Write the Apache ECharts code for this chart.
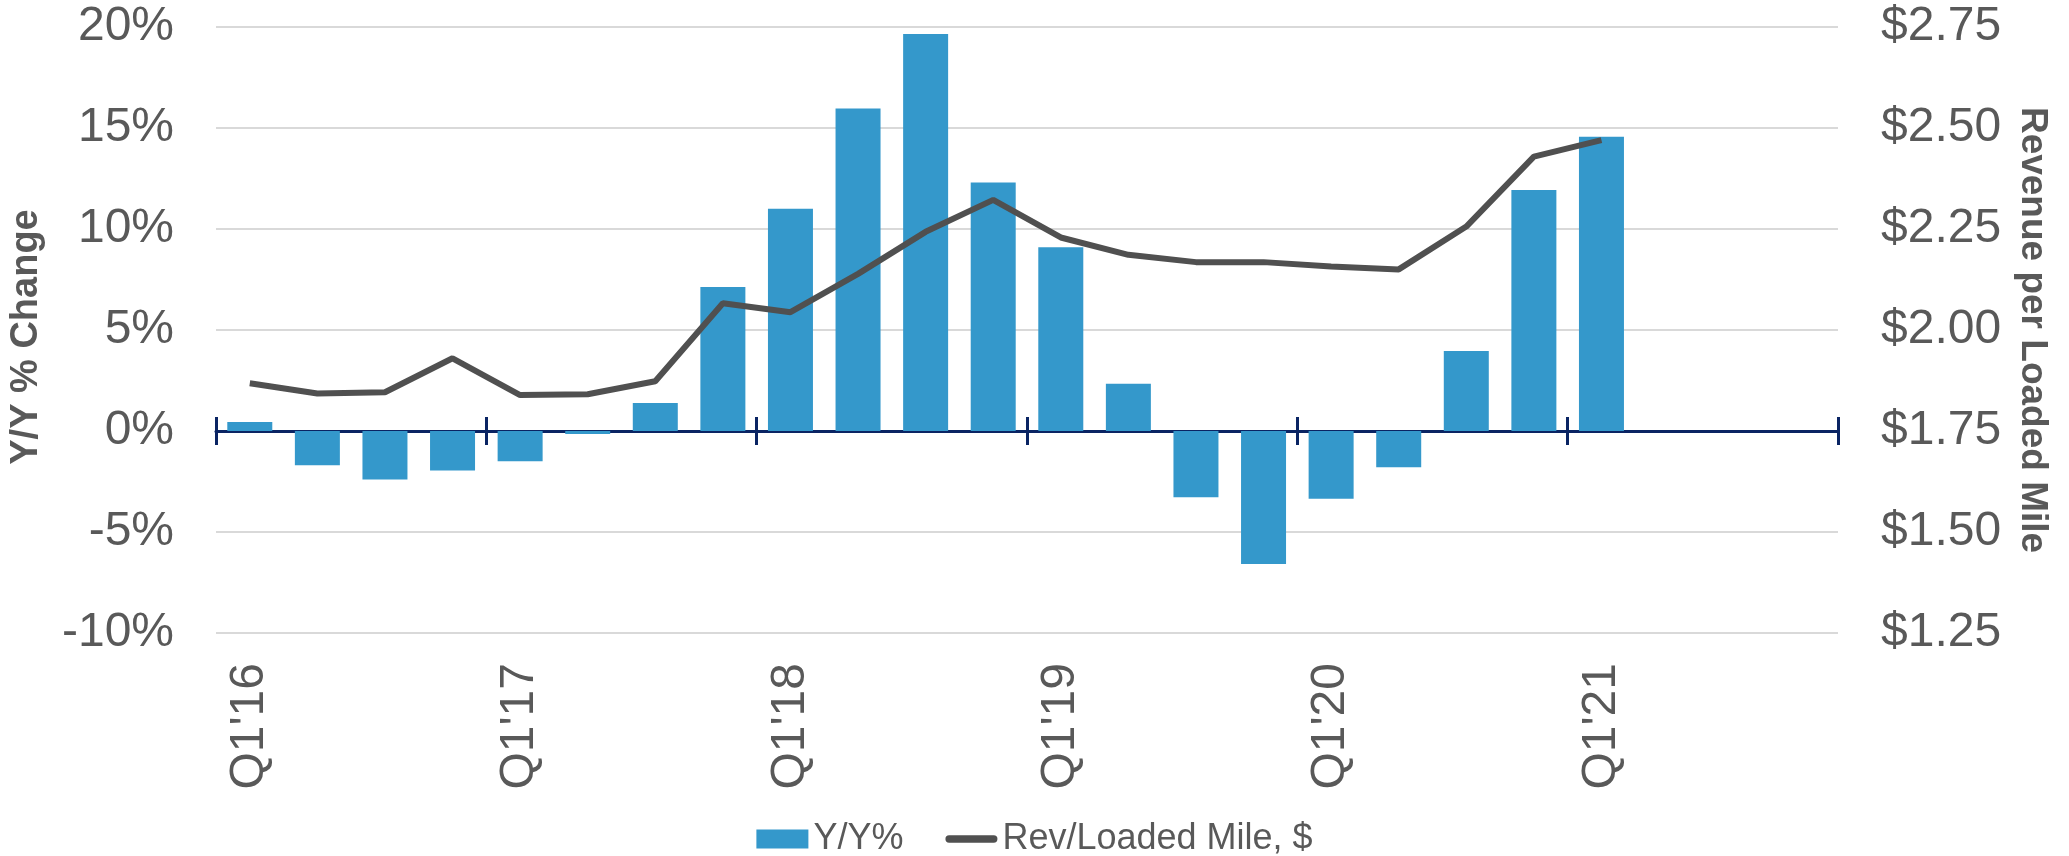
<!DOCTYPE html>
<html>
<head>
<meta charset="utf-8">
<script src="https://cdn.jsdelivr.net/npm/echarts@6/dist/echarts.min.js"></script>
<style>
html,body{margin:0;padding:0;background:#fff;}
#chart{width:2069px;height:856px;}
</style>
</head>
<body>
<div id="chart"></div>
<script>
const categories = ["Q1'16","Q2'16","Q3'16","Q4'16","Q1'17","Q2'17","Q3'17","Q4'17",
  "Q1'18","Q2'18","Q3'18","Q4'18","Q1'19","Q2'19","Q3'19","Q4'19",
  "Q1'20","Q2'20","Q3'20","Q4'20","Q1'21","Q2'21","Q3'21","Q4'21"];
const yoyPct = [0.45,-1.7,-2.4,-1.95,-1.5,-0.15,1.38,7.13,11.0,15.97,19.65,12.3,9.1,2.34,-3.28,-6.59,-3.36,-1.8,3.96,11.93,14.57];
const revPerMile = [1.868,1.843,1.846,1.930,1.839,1.841,1.873,2.066,2.044,2.139,2.243,2.322,2.229,2.186,2.168,2.168,2.157,2.150,2.256,2.429,2.470];
const leftTicks = {min:-10, max:20, interval:5};
const rightTicks = {min:1.25, max:2.75, interval:0.25};

const gray = '#595959';
const navy = '#0a2463';
const font = 'Liberation Sans, Arial, sans-serif';

const chart = echarts.init(document.getElementById('chart'), null, {renderer:'canvas'});
chart.setOption({
  animation:false,
  textStyle:{fontFamily:font},
  grid:{left:214,right:231,top:27,bottom:223},
  legend:{
    top:816, left:'center',
    itemWidth:52, itemHeight:19, itemGap:42,
    textStyle:{fontSize:36,color:gray,fontFamily:font},
    data:[{name:'Y/Y%',icon:'rect'},
          {name:'Rev/Loaded Mile, $',icon:'path://M4,0 L52,0 A4,4 0 0 1 52,8 L4,8 A4,4 0 0 1 4,0 Z'}]
  },
  xAxis:[
    {type:'category',data:categories,position:'bottom',
     axisLine:{show:false,onZero:false},axisTick:{show:false},
     axisLabel:{rotate:90,interval:3,fontSize:48,color:gray,margin:30,fontFamily:font}},
    {type:'category',data:categories,position:'bottom',
     axisLine:{show:true,onZero:true,onZeroAxisIndex:0,lineStyle:{color:navy,width:3}},
     axisTick:{show:true,interval:3,length:14,lineStyle:{color:navy,width:3}},
     axisLabel:{show:false}},
    {type:'category',data:categories,position:'bottom',
     axisLine:{show:false,onZero:true,onZeroAxisIndex:2},
     axisTick:{show:true,inside:true,interval:3,length:14,lineStyle:{color:navy,width:3}},
     axisLabel:{show:false}}
  ],
  yAxis:[
    {type:'value',min:leftTicks.min,max:leftTicks.max,interval:leftTicks.interval,
     name:'Y/Y % Change',nameLocation:'middle',nameGap:170,
     nameTextStyle:{fontSize:38,fontWeight:'bold',color:gray,fontFamily:font,padding:[0,14,0,0]},
     axisLine:{show:false},axisTick:{show:false},
     axisLabel:{formatter:'{value}%',fontSize:48,color:gray,margin:42,fontFamily:font},
     splitLine:{lineStyle:{color:'#d9d9d9',width:2}}},
    {type:'value',min:rightTicks.min,max:rightTicks.max,interval:rightTicks.interval,position:'right',
     name:'Revenue per Loaded Mile',nameLocation:'middle',nameGap:176,nameRotate:-90,
     nameTextStyle:{fontSize:37,fontWeight:'bold',color:gray,fontFamily:font},
     axisLine:{show:false},axisTick:{show:false},
     axisLabel:{formatter:v=>'$'+v.toFixed(2),fontSize:48,color:gray,margin:43,fontFamily:font},
     splitLine:{show:false}},
    {type:'value',min:leftTicks.min,max:leftTicks.max,interval:leftTicks.interval,show:false}
  ],
  series:[
    {name:'Y/Y%',type:'bar',data:yoyPct,xAxisIndex:0,yAxisIndex:0,barWidth:45,
     itemStyle:{color:'#3498cb'},z:2},
    {name:'Rev/Loaded Mile, $',type:'line',data:revPerMile,xAxisIndex:0,yAxisIndex:1,
     symbol:'none',lineStyle:{color:'#505050',width:6},itemStyle:{color:'#505050'},z:4}
  ]
});
</script>
</body>
</html>
